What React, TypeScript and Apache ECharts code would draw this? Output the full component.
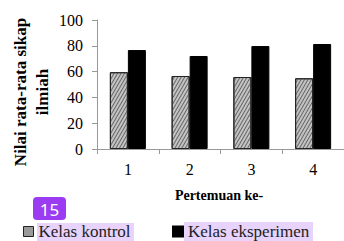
import React, { useEffect, useRef } from "react";
import * as echarts from "echarts";

const categories = ["1", "2", "3", "4"];
const kontrol = [59.5, 56.6, 55.8, 54.8];
const eksperimen = [76.7, 72.1, 79.8, 81.4];
const yTicks = { min: 0, max: 100, interval: 20 };
const seriesNames = ["Kelas kontrol", "Kelas eksperimen"];
const yTitle = "Nilai rata-rata sikap\nilmiah";
const xTitle = "Pertemuan ke-";
const badgeText = "15";

const SERIF = "Liberation Serif";

export default function App() {
  const ref = useRef<HTMLDivElement>(null);
  useEffect(() => {
    if (!ref.current) return;
    const chart = echarts.init(ref.current, undefined, { renderer: "svg" });
    const legendText = {
      fontFamily: SERIF,
      fontSize: 17,
      color: "#222",
    };
    chart.setOption({
      animation: false,
      backgroundColor: "#fff",
      textStyle: { fontFamily: SERIF },
      grid: { left: 97, top: 20, width: 256, height: 129, containLabel: false },
      xAxis: {
        type: "category",
        data: categories,
        axisLine: { show: true, lineStyle: { color: "#999", width: 1 } },
        axisTick: { show: true, length: 5, lineStyle: { color: "#999" } },
        axisLabel: { color: "#000", fontFamily: SERIF, fontSize: 16, margin: 12 },
      },
      yAxis: {
        type: "value",
        min: yTicks.min,
        max: yTicks.max,
        interval: yTicks.interval,
        splitLine: { show: false },
        axisLine: { show: true, lineStyle: { color: "#999", width: 1 } },
        axisTick: { show: true, length: 5, lineStyle: { color: "#999" } },
        axisLabel: { color: "#000", fontFamily: SERIF, fontSize: 16, margin: 14 },
      },
      legend: [
        {
          data: [
            {
              name: seriesNames[0],
              itemStyle: { color: "#9a9a9a", borderColor: "#222", borderWidth: 1, decal: "none" },
            },
          ],
          left: 23,
          top: 223,
          padding: 0,
          icon: "rect",
          itemWidth: 10,
          itemHeight: 10,
          textStyle: legendText,
        },
        {
          data: [seriesNames[1]],
          left: 172,
          top: 223,
          padding: 0,
          icon: "rect",
          itemWidth: 10,
          itemHeight: 10,
          textStyle: legendText,
        },
      ],
      series: [
        {
          name: seriesNames[0],
          type: "bar",
          data: kontrol,
          barWidth: 18,
          barGap: "0%",
          itemStyle: {
            color: "#c4c4c4",
            borderColor: "#222",
            borderWidth: 1,
            decal: {
              symbol: "rect",
              symbolSize: 1,
              dashArrayX: [1, 0],
              dashArrayY: [1, 2],
              rotation: -Math.PI / 3,
              color: "#666",
            },
          },
        },
        {
          name: seriesNames[1],
          type: "bar",
          data: eksperimen,
          barWidth: 18,
          itemStyle: { color: "#000", borderColor: "#000", borderWidth: 1 },
        },
      ],
      graphic: [
        {
          type: "text",
          x: 31,
          y: 92,
          rotation: Math.PI / 2,
          style: {
            text: yTitle,
            font: `bold 17px "${SERIF}"`,
            fill: "#000",
            align: "center",
            verticalAlign: "middle",
            lineHeight: 22,
          },
        },
        {
          type: "text",
          x: 219,
          y: 195,
          style: {
            text: xTitle,
            font: `bold 14px "${SERIF}"`,
            fill: "#000",
            align: "center",
            verticalAlign: "middle",
          },
        },
        {
          type: "rect",
          z: -1,
          shape: { x: 37, y: 223, width: 97, height: 18 },
          style: { fill: "#e7d3fb" },
        },
        {
          type: "rect",
          z: -1,
          shape: { x: 184, y: 222, width: 129, height: 19 },
          style: { fill: "#e7d3fb" },
        },
        {
          type: "rect",
          shape: { x: 33, y: 197, width: 33, height: 23, r: 4 },
          style: { fill: "#9b3cf2" },
        },
        {
          type: "text",
          x: 49.5,
          y: 209,
          style: {
            text: badgeText,
            font: "17px 'Noto Sans', sans-serif",
            fill: "#fff",
            align: "center",
            verticalAlign: "middle",
          },
        },
      ],
    });
    return () => chart.dispose();
  }, []);
  return (
    <div
      ref={ref}
      style={{ position: "fixed", left: 0, top: 0, width: 344, height: 241 }}
    />
  );
}
